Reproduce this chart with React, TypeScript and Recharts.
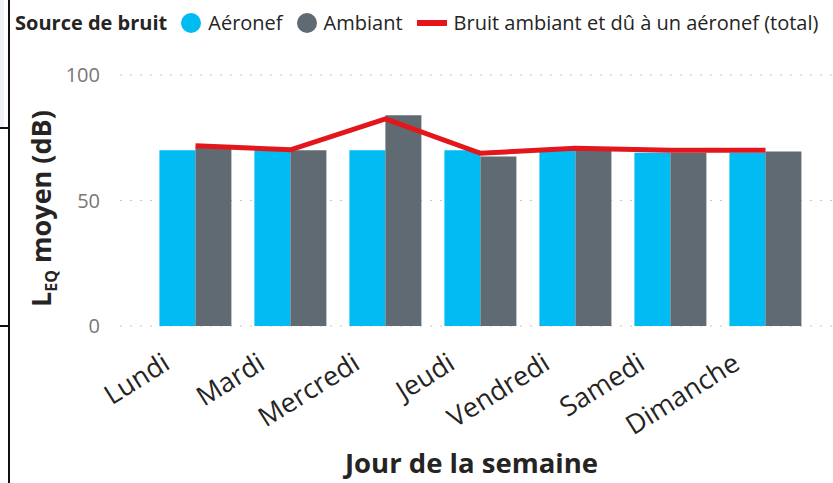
import React from "react";
import { Bar, CartesianGrid, ComposedChart, Label, Line, XAxis, YAxis } from "recharts";

const days = ["Lundi", "Mardi", "Mercredi", "Jeudi", "Vendredi", "Samedi", "Dimanche"];
const aeronef = [70, 70, 70, 70, 70, 69, 69];
const ambiant = [71, 70, 84, 67.5, 70, 69, 69.5];
const total = [71.8, 70.2, 82.5, 68.8, 70.8, 70, 70];
const yTicks = [0, 50, 100];

const FONT = "'Open Sans', 'Noto Sans', sans-serif";
const CYAN = "#00BCF2";
const GREY = "#5F6A72";
const RED = "#E3161B";

const data = days.map((day, i) => ({
  day,
  aeronef: aeronef[i],
  ambiant: ambiant[i],
  total: total[i],
}));

function DayTick(props: any) {
  const { x, y, payload } = props;
  const tx = x - 24;
  const ty = y + 34;
  return (
    <text
      x={tx}
      y={ty}
      transform={`rotate(-32, ${tx}, ${ty})`}
      textAnchor="end"
      fill="#252423"
      fontSize={27}
      fontFamily={FONT}
    >
      {payload.value}
    </text>
  );
}

function YTitle(props: any) {
  const vb = props.viewBox || {};
  const cx = 51;
  const cy = (vb.y ?? 75) + (vb.height ?? 251) / 2 + 8;
  return (
    <text
      x={cx}
      y={cy}
      transform={`rotate(-90, ${cx}, ${cy})`}
      textAnchor="middle"
      fill="#252423"
      fontSize={27}
      fontWeight={700}
      fontFamily={FONT}
    >
      <tspan>L</tspan>
      <tspan fontSize={16} dy={6}>EQ</tspan>
      <tspan dy={-6}> moyen (dB)</tspan>
    </text>
  );
}

function LegendBar() {
  const item: React.CSSProperties = { display: "flex", alignItems: "center", gap: 7 };
  return (
    <div
      style={{
        position: "absolute",
        top: 9,
        left: 15,
        display: "flex",
        alignItems: "center",
        gap: 14,
        fontFamily: FONT,
        fontSize: 20,
        color: "#252423",
        whiteSpace: "nowrap",
      }}
    >
      <span style={{ fontWeight: 700 }}>Source de bruit</span>
      <span style={item}>
        <span style={{ width: 20, height: 20, borderRadius: "50%", background: CYAN }} />
        Aéronef
      </span>
      <span style={item}>
        <span style={{ width: 20, height: 20, borderRadius: "50%", background: GREY }} />
        Ambiant
      </span>
      <span style={item}>
        <span style={{ width: 30, height: 6, background: RED }} />
        Bruit ambiant et dû à un aéronef (total)
      </span>
    </div>
  );
}

export default function App() {
  return (
    <div style={{ position: "absolute", left: 0, top: 0, width: 833, height: 483, background: "#fff" }}>
      {/* left edge frame */}
      <div style={{ position: "absolute", left: 0, top: 0, width: 4, height: 127, background: "#eef1f6" }} />
      <div style={{ position: "absolute", left: 8, top: 0, width: 2, height: 483, background: "#111" }} />
      <div style={{ position: "absolute", left: 0, top: 127, width: 9, height: 2, background: "#111" }} />
      <div style={{ position: "absolute", left: 0, top: 325, width: 9, height: 2, background: "#111" }} />

      <ComposedChart
        width={833}
        height={483}
        data={data}
        margin={{ top: 75, right: 0, bottom: 0, left: 0 }}
        barCategoryGap="12%"
        barGap={0}
      >
        <CartesianGrid vertical={false} stroke="#c8c6c4" strokeDasharray="2 8" />
        <XAxis
          dataKey="day"
          height={157}
          axisLine={false}
          tickLine={false}
          interval={0}
          padding={{ left: 28, right: 20 }}
          tick={<DayTick />}
        >
          <Label
            value="Jour de la semaine"
            position="insideBottom"
            offset={10}
            dx={-5}
            fill="#252423"
            fontSize={27.5}
            fontWeight={700}
            fontFamily={FONT}
          />
        </XAxis>
        <YAxis
          width={120}
          domain={[0, 100]}
          ticks={yTicks}
          axisLine={false}
          tickLine={false}
          tickMargin={14}
          tick={{ fill: "#777", fontSize: 20, fontFamily: FONT }}
        >
          <Label content={<YTitle />} />
        </YAxis>
        <Bar dataKey="aeronef" fill={CYAN} isAnimationActive={false} />
        <Bar dataKey="ambiant" fill={GREY} isAnimationActive={false} />
        <Line
          dataKey="total"
          type="linear"
          stroke={RED}
          strokeWidth={5}
          dot={false}
          isAnimationActive={false}
        />
      </ComposedChart>

      <LegendBar />
    </div>
  );
}
